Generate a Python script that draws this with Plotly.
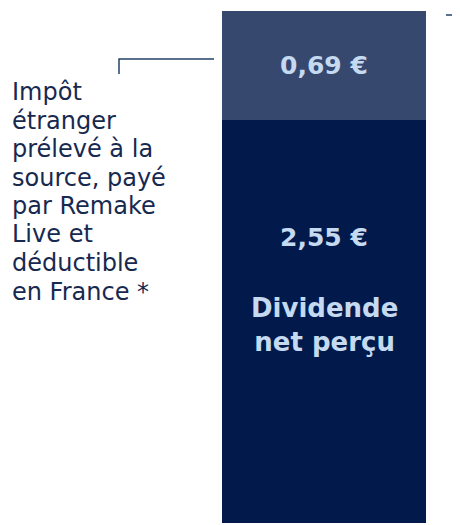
import plotly.graph_objects as go

# Page body adds an 8px offset; figure is sized to fit the 460x525 window
OFF = 8
W, H = 460 - OFF, 525 - OFF

# Data
categories = ["Dividende"]
net_dividend = [2.55]
foreign_tax = [0.69]
value_labels_net = ["2,55 €"]
value_labels_tax = ["0,69 €"]
net_label = "Dividende<br>net perçu"
tax_lines = ["Impôt", "étranger", "prélevé à la", "source, payé", "par Remake",
             "Live et", "déductible", "en France *"]

C_NET = "#011a4b"
C_TAX = "#36486e"
C_TXT_IN = "#c5daf0"
C_TXT = "#17294f"
C_LINE = "#254169"

total = net_dividend[0] + foreign_tax[0]

fig = go.Figure()
fig.add_trace(go.Bar(x=categories, y=net_dividend, marker=dict(color=C_NET, line=dict(width=0)),
                     width=1, hoverinfo="skip"))
fig.add_trace(go.Bar(x=categories, y=foreign_tax, marker=dict(color=C_TAX, line=dict(width=0)),
                     width=1, hoverinfo="skip"))


def px(x):
    return (x - OFF) / W


def py(y):
    return 1 - (y - OFF) / H


annotations = [
    dict(x=categories[0], y=net_dividend[0] + foreign_tax[0] / 2, xref="x", yref="y",
         text=value_labels_tax[0], showarrow=False,
         font=dict(family="DejaVu Sans", size=25, color=C_TXT_IN, weight="bold")),
    dict(x=categories[0], y=py(237), xref="x", yref="paper",
         text=value_labels_net[0], showarrow=False, yanchor="middle",
         font=dict(family="DejaVu Sans", size=25, color=C_TXT_IN, weight="bold")),
    dict(x=categories[0], y=py(325), xref="x", yref="paper",
         text=net_label, showarrow=False, yanchor="middle",
         font=dict(family="DejaVu Sans", size=26, color=C_TXT_IN, weight="bold")),
]
for i, line in enumerate(tax_lines):
    annotations.append(dict(
        x=px(10), y=py(92 + 28.5 * i), xref="paper", yref="paper",
        xanchor="left", yanchor="middle", align="left", text=line, showarrow=False,
        font=dict(family="DejaVu Sans", size=24, color=C_TXT)))

shapes = [
    dict(type="path", xref="paper", yref="paper",
         path=f"M {px(119)} {py(74)} L {px(119)} {py(59)} L {px(214)} {py(59)}",
         line=dict(color=C_LINE, width=1.5)),
    dict(type="line", xref="paper", yref="paper", x0=px(446), x1=px(460), y0=py(15), y1=py(15),
         line=dict(color=C_LINE, width=1.5)),
]

fig.update_layout(
    width=W, height=H, margin=dict(l=0, r=0, t=0, b=0),
    barmode="stack", showlegend=False,
    paper_bgcolor="white", plot_bgcolor="white",
    xaxis=dict(domain=[px(222), px(426)], visible=False, range=[-0.5, 0.5]),
    yaxis=dict(domain=[py(523), py(11)], visible=False, range=[0, total]),
    annotations=annotations, shapes=shapes,
)

fig.write_html("out.html")
